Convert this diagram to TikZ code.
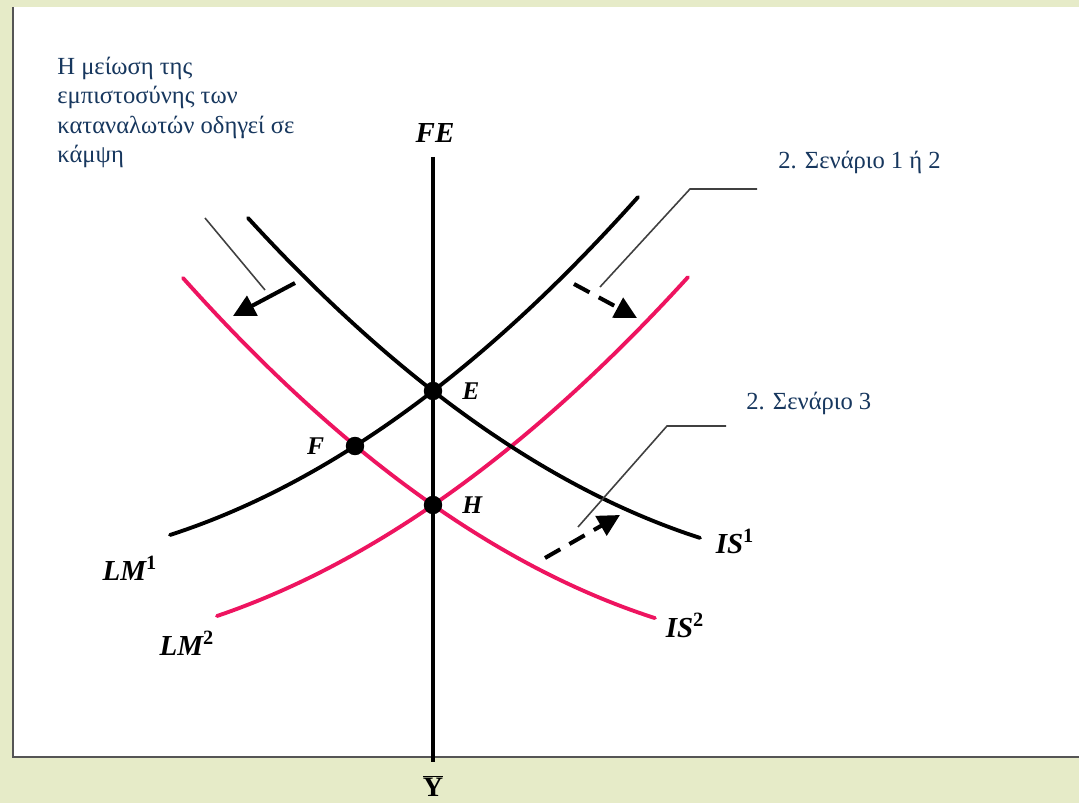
\documentclass[tikz,border=0pt]{standalone}
\usepackage{fontspec}
\setmainfont{Liberation Serif}
\usetikzlibrary{positioning,arrows.meta}
\definecolor{fondo}{RGB}{230,235,200}
\definecolor{rosa}{RGB}{238,20,96}
\definecolor{azul}{RGB}{23,55,94}
\definecolor{borde}{RGB}{85,85,85}

\begin{document}
\begin{tikzpicture}[
  x=0.02cm, y=-0.02cm,
  curva/.style={line width=2.2pt, line cap=round},
  curvarosa/.style={curva, draw=rosa},
  punto/.style={circle, fill=black, inner sep=0pt, minimum size=10.5pt},
  etiq/.style={font=\fontsize{16.5}{18}\selectfont\bfseries\itshape, inner sep=0pt},
  letra/.style={font=\fontsize{14.5}{16}\selectfont\bfseries\itshape, inner sep=0pt},
  texto/.style={font=\fontsize{14}{16.6}\selectfont, text=azul, align=left, inner sep=0pt},
  guia/.style={line width=0.9pt, draw=black!75},
  desplaza/.style={line width=2.3pt, -{Triangle[length=12.5pt,width=12.5pt]}},
  desplazad/.style={desplaza, dash pattern=on 10pt off 6pt}
]

  % Fondo y marco
  \fill[fondo] (0,0) rectangle (1079,803);
  \useasboundingbox (0,0) rectangle (1079,803);
  \fill[white] (13,7) rectangle (1079,757);
  \draw[borde, line width=1.5pt] (13,7) -- (13,757) -- (1079,757);

  % Puntos de equilibrio
  \coordinate (E) at (433,391);
  \coordinate (F) at (355,446);
  \coordinate (H) at (433,505);

  % Recta FE
  \coordinate (FEarriba) at (433,157);
  \coordinate (FEabajo) at (433,762);
  \draw[curva, line cap=butt] (FEarriba) -- (FEabajo);
  \node[etiq] (FE) at (435,133) {FE};
  \node[font=\fontsize{16}{18}\selectfont\bfseries, inner sep=0pt] (Ybar) at (433,786) {$\overline{\mbox{Y}}$};

  % Curvas LM (x en centenas de pixel)
  \draw[curva] plot[domain=1.70:6.38, samples=60] ({100*\x},{565.3-3.36*\x-8.52*\x*\x});
  \draw[curvarosa] plot[domain=2.17:6.88, samples=60] ({100*\x},{651.66+1.08*\x-8.07*\x*\x});

  % Curvas IS
  \draw[curva] plot[domain=2.48:7.00, samples=60] ({100*\x},{-105.3+151.46*\x-8.51*\x*\x});
  \draw[curvarosa] plot[domain=1.83:6.55, samples=60] ({100*\x},{44.85+142.87*\x-8.45*\x*\x});

  \node[punto] (pE) at (E) {};
  \node[punto] (pF) at (F) {};
  \node[punto] (pH) at (H) {};
  \node[letra, right=11pt of pE] (lE) {E};
  \node[letra, left=12pt of pF] (lF) {F};
  \node[letra, right=11pt of pH] (lH) {H};

  \node[etiq] (LM1) at (130,568) {LM\textsuperscript{\upshape 1}};
  \node[etiq] (LM2) at (187,643) {LM\textsuperscript{\upshape 2}};
  \node[etiq] (IS1) at (735,541) {IS\textsuperscript{\upshape 1}};
  \node[etiq] (IS2) at (685,625) {IS\textsuperscript{\upshape 2}};

  % Desplazamientos
  \coordinate (d1a) at (295,283);
  \coordinate (d1b) at (233,316);
  \draw[desplaza] (d1a) -- (d1b);
  \coordinate (d2a) at (574,284);
  \coordinate (d2b) at (637,318);
  \draw[desplazad] (d2a) -- (d2b);
  \coordinate (d3a) at (545,558);
  \coordinate (d3b) at (620,515);
  \draw[desplazad] (d3a) -- (d3b);

  % Textos y lineas guia
  \node[texto, anchor=north west] (txt1) at (57,57) {Η μείωση της\\εμπιστοσύνης των\\καταναλωτών οδηγεί σε\\κάμψη};
  \coordinate (g1a) at (205,218);
  \coordinate (g1b) at (265,290);
  \draw[guia] (g1a) -- (g1b);

  \node[texto, anchor=west] (txt2) at (778,162) {2. Σενάριο 1 ή 2};
  \coordinate (g2a) at (600,287);
  \coordinate (g2b) at (690,189);
  \coordinate (g2c) at (757,189);
  \draw[guia] (g2a) -- (g2b) -- (g2c);

  \node[texto, anchor=west] (txt3) at (746,403) {2. Σενάριο 3};
  \coordinate (g3a) at (578,527);
  \coordinate (g3b) at (667,426);
  \coordinate (g3c) at (726,426);
  \draw[guia] (g3a) -- (g3b) -- (g3c);
\end{tikzpicture}
\end{document}
